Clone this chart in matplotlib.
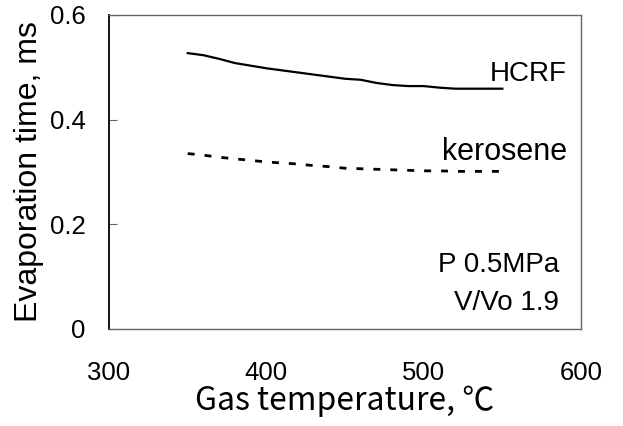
import matplotlib
matplotlib.use("Agg")
import matplotlib.pyplot as plt

# Data
temp = [350, 360, 370, 380, 390, 400, 410, 420, 430, 440, 450,
        460, 470, 480, 490, 500, 510, 520, 530, 540, 550]
hcrf = [0.527, 0.523, 0.516, 0.508, 0.503, 0.498, 0.494, 0.490, 0.486, 0.482, 0.478,
        0.476, 0.470, 0.466, 0.464, 0.464, 0.461, 0.459, 0.459, 0.459, 0.459]
kerosene = [0.335, 0.332, 0.328, 0.325, 0.322, 0.319, 0.317, 0.315, 0.312, 0.310, 0.307,
            0.306, 0.305, 0.304, 0.303, 0.302, 0.302, 0.301, 0.301, 0.301, 0.301]

xticks = [300, 400, 500, 600]
yticks = [0, 0.2, 0.4, 0.6]
ytick_labels = ['0', '0.2', '0.4', '0.6']

plt.rcParams['font.family'] = ['Liberation Sans', 'DejaVu Sans']
cjk = ['Noto Sans CJK JP', 'DejaVu Sans']

fig = plt.figure(figsize=(6.23, 4.26), dpi=100)
ax = fig.add_axes([0.175, 0.228, 0.7576, 0.737])

ax.plot(temp, hcrf, color='black', lw=1.6)
ax.plot(temp, kerosene, color='black', lw=2.0, linestyle=(0, (2.5, 3.6)))

ax.set_xlim(300, 600)
ax.set_ylim(0, 0.6)
ax.set_xticks(xticks)
ax.set_yticks(yticks)
ax.set_yticklabels(ytick_labels)
ax.tick_params(axis='y', direction='in', length=6, width=0.8, color='#666666', pad=17, labelsize=18.5)
ax.tick_params(axis='x', length=0, pad=23, labelsize=18.5)

for side in ['top', 'right', 'bottom']:
    ax.spines[side].set_color('#666666')
    ax.spines[side].set_linewidth(1.0)
ax.spines['left'].set_color('black')
ax.spines['left'].set_linewidth(1.3)

ax.set_ylabel('Evaporation time, ms', fontsize=23, labelpad=4)
ax.set_xlabel('Gas temperature, ℃', fontsize=23, family=cjk, labelpad=0)

ax.text(591, 0.474, 'HCRF', fontsize=20, ha='right', va='baseline')
ax.text(591, 0.323, 'kerosene', fontsize=22, ha='right', va='baseline')
ax.text(586, 0.109, 'P 0.5MPa', fontsize=20, ha='right', va='baseline')
ax.text(586, 0.036, 'V/Vo 1.9', fontsize=20, ha='right', va='baseline')

fig.savefig('out.png', dpi=100)
